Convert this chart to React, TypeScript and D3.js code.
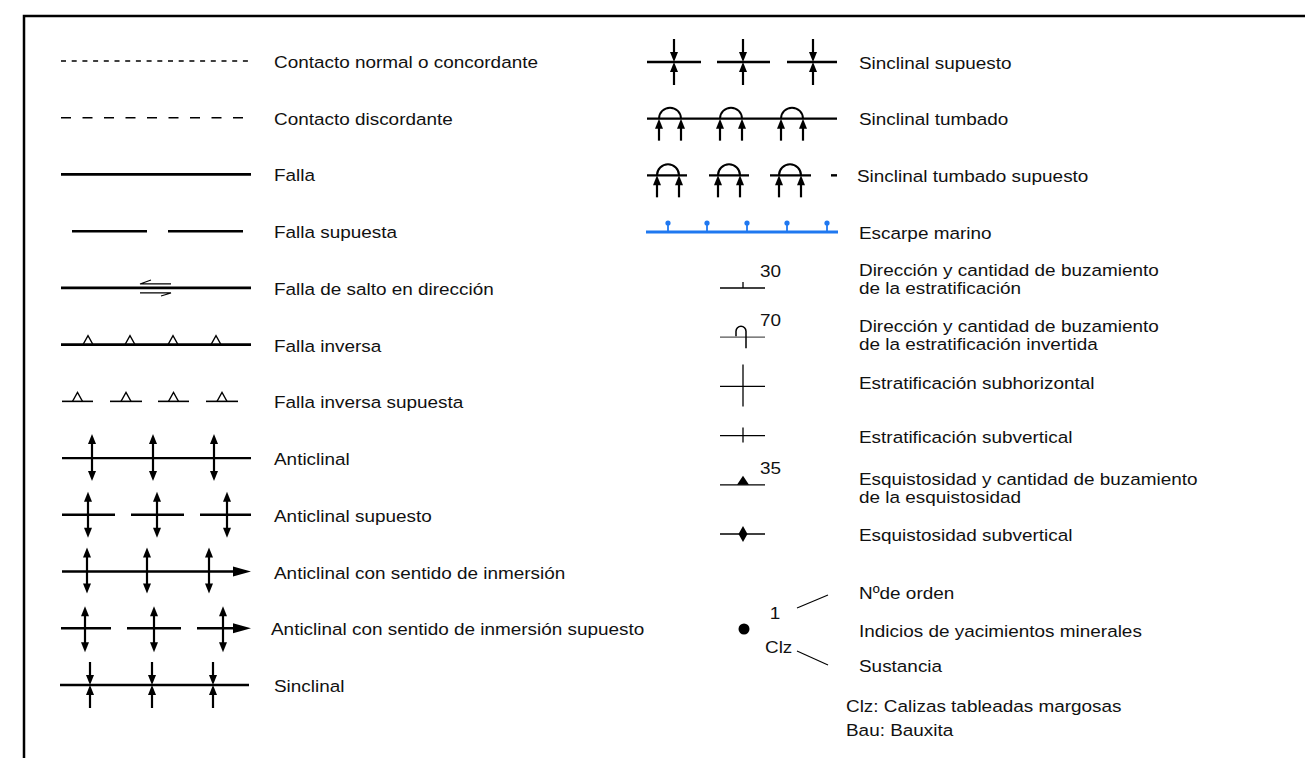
import * as d3 from 'd3';

// legend entries, left column
const leftLabels = [
  'Contacto normal o concordante',
  'Contacto discordante',
  'Falla',
  'Falla supuesta',
  'Falla de salto en dirección',
  'Falla inversa',
  'Falla inversa supuesta',
  'Anticlinal',
  'Anticlinal supuesto',
  'Anticlinal con sentido de inmersión',
  'Anticlinal con sentido de inmersión supuesto',
  'Sinclinal',
];

// right column, fold group
const foldLabels = ['Sinclinal supuesto', 'Sinclinal tumbado', 'Sinclinal tumbado supuesto', 'Escarpe marino'];

// right column, attitude group
const attitudeLabels = [
  ['Dirección y cantidad de buzamiento', 'de la estratificación'],
  ['Dirección y cantidad de buzamiento', 'de la estratificación invertida'],
  ['Estratificación subhorizontal'],
  ['Estratificación subvertical'],
  ['Esquistosidad y cantidad de buzamiento', 'de la esquistosidad'],
  ['Esquistosidad subvertical'],
];
const dipValues = ['30', '70', '', '', '35', ''];

// mineral occurrences
const mineralLabels = ['Nºde orden', 'Indicios de yacimientos minerales', 'Sustancia'];
const mineralNumber = '1';
const mineralCode = 'Clz';
const substanceKey = ['Clz: Calizas tableadas margosas', 'Bau: Bauxita'];

const W = 1305;
const H = 758;
const FONT = 'Liberation Sans, Arial, sans-serif';
const BLUE = '#1f78f0';

const yLeft = d3.scaleLinear().domain([0, leftLabels.length - 1]).range([61, 685]);
const yFold = d3.scaleLinear().domain([0, foldLabels.length - 1]).range([62, 232]);
const yAtt = d3.scaleLinear().domain([0, attitudeLabels.length - 1]).range([288, 534]);
const attLabelOffset = [-18, -11, -3, 1, -6, 1];

const L0 = 61, L1 = 251;
const R0 = 646, R1 = 837;
const S0 = 720, S1 = 765, SX = 743;

function Label({ x, y, text }: { x: number; y: number; text: string }) {
  // y is the visual centre of the caps
  return (
    <text
      transform={`translate(${x},${y + 6}) scale(1.1,1)`}
      fontFamily={FONT}
      fontSize={17.2}
      fill="#111"
    >
      {text}
    </text>
  );
}

// filled arrow head, tip at (x, y), pointing dir
function head(x: number, y: number, dir: 'up' | 'down' | 'right', len = 10, hw = 4) {
  const p = d3.path();
  if (dir === 'up') {
    p.moveTo(x, y); p.lineTo(x - hw, y + len); p.lineTo(x + hw, y + len);
  } else if (dir === 'down') {
    p.moveTo(x, y); p.lineTo(x - hw, y - len); p.lineTo(x + hw, y - len);
  } else {
    p.moveTo(x, y); p.lineTo(x - len, y - hw); p.lineTo(x - len, y + hw);
  }
  p.closePath();
  return <path d={p.toString()} fill="#000" />;
}

function line(x1: number, y1: number, x2: number, y2: number, w = 2.2, color = '#000', dash?: string) {
  return <line x1={x1} y1={y1} x2={x2} y2={y2} stroke={color} strokeWidth={w} strokeDasharray={dash} />;
}

function doubleArrow(x: number, y1: number, y2: number) {
  return (
    <g>
      {line(x, y1 + 5, x, y2 - 5)}
      {head(x, y1, 'up')}
      {head(x, y2, 'down')}
    </g>
  );
}

function inwardArrow(x: number, y1: number, yc: number, y2: number) {
  return (
    <g>
      {line(x, y1, x, yc - 5)}
      {line(x, y2, x, yc + 5)}
      {head(x, yc, 'down')}
      {head(x, yc, 'up')}
    </g>
  );
}

function tri(x: number, y: number) {
  return <path d={`M${x - 5},${y}L${x},${y - 9}L${x + 5},${y}`} fill="none" stroke="#000" strokeWidth={1.3} />;
}

function leftSymbol(i: number) {
  const y = yLeft(i);
  switch (i) {
    case 0:
      return line(L0, y, 248, y, 1.6, '#000', '5 5.7');
    case 1:
      return line(L0, y, 243, y, 1.5, '#000', '10 11.5');
    case 2:
      return line(L0, y, L1, y, 2.8);
    case 3:
      return (
        <g>
          {line(72, y, 147, y, 2.4)}
          {line(168, y, 243, y, 2.4)}
        </g>
      );
    case 4:
      return (
        <g>
          {line(L0, y, L1, y, 2.6)}
          <path d={`M151,${y - 8}L140,${y - 4}L171,${y - 4}`} fill="none" stroke="#000" strokeWidth={1.1} />
          <path d={`M140,${y + 5}L171,${y + 5}L161,${y + 8}`} fill="none" stroke="#000" strokeWidth={1.1} />
        </g>
      );
    case 5:
      return (
        <g>
          {line(L0, y, L1, y, 2.6)}
          {[88, 130, 173, 216].map((x) => <g key={x}>{tri(x, y)}</g>)}
        </g>
      );
    case 6:
      return (
        <g>
          {[[62, 93], [110, 142], [158, 189], [206, 238]].map(([a, b]) => (
            <g key={a}>
              {line(a, y, b, y, 1.6)}
              {tri((a + b) / 2, y)}
            </g>
          ))}
        </g>
      );
    case 7:
      return (
        <g>
          {line(62, y, L1, y, 2.4)}
          {[92, 153, 214].map((x) => <g key={x}>{doubleArrow(x, y - 24, y + 23)}</g>)}
        </g>
      );
    case 8:
      return (
        <g>
          {[[62, 115], [131, 184], [200, 251]].map(([a, b]) => <g key={a}>{line(a, y, b, y, 2.4)}</g>)}
          {[88, 157, 227].map((x) => <g key={x}>{doubleArrow(x, y - 23, y + 23)}</g>)}
        </g>
      );
    case 9:
      return (
        <g>
          {line(62, y, 236, y, 2.4)}
          {head(L1, y, 'right', 18, 5)}
          {[87, 147, 209].map((x) => <g key={x}>{doubleArrow(x, y - 24, y + 22)}</g>)}
        </g>
      );
    case 10:
      return (
        <g>
          {line(61, y, 111, y, 2.4)}
          {line(127, y, 181, y, 2.4)}
          {line(197, y, 236, y, 2.4)}
          {head(L1, y, 'right', 18, 5)}
          {[85, 154, 223].map((x) => <g key={x}>{doubleArrow(x, y - 22, y + 24)}</g>)}
        </g>
      );
    default:
      return (
        <g>
          {line(60, y, 249, y, 2.4)}
          {[90, 152, 213].map((x) => <g key={x}>{inwardArrow(x, y - 23, y, y + 23)}</g>)}
        </g>
      );
  }
}

function overturned(cx: number, y: number, r: number) {
  const arc = d3.path();
  arc.moveTo(cx - r, y);
  arc.arc(cx, y, r, Math.PI, 0);
  return (
    <g>
      <path d={arc.toString()} fill="none" stroke="#000" strokeWidth={2} />
      {line(cx - r, y + 22, cx - r, y + 5)}
      {line(cx + r, y + 22, cx + r, y + 5)}
      {head(cx - r, y, 'up')}
      {head(cx + r, y, 'up')}
    </g>
  );
}

function foldSymbol(i: number) {
  const y = yFold(i);
  switch (i) {
    case 0:
      return (
        <g>
          {[[647, 701], [717, 770], [787, R1]].map(([a, b]) => <g key={a}>{line(a, y, b, y, 2.4)}</g>)}
          {[674, 743, 813].map((x) => <g key={x}>{inwardArrow(x, y - 23, y, y + 23)}</g>)}
        </g>
      );
    case 1:
      return (
        <g>
          {line(647, y, R1, y, 2.4)}
          {[670, 731, 792].map((cx) => <g key={cx}>{overturned(cx, y, 11)}</g>)}
        </g>
      );
    case 2:
      return (
        <g>
          {[[647, 687], [709, 749], [770, 811], [831, R1]].map(([a, b]) => <g key={a}>{line(a, y, b, y, 2.4)}</g>)}
          {[668, 729, 790].map((cx) => <g key={cx}>{overturned(cx, y, 11)}</g>)}
        </g>
      );
    default:
      return (
        <g>
          {line(R0, y, 838, y, 3.2, BLUE)}
          {[668, 707, 747, 787, 827].map((x) => (
            <g key={x}>
              {line(x, y, x, y - 8, 1.8, BLUE)}
              <circle cx={x} cy={y - 9} r={2.6} fill={BLUE} />
            </g>
          ))}
        </g>
      );
  }
}

function attitudeSymbol(i: number) {
  const y = yAtt(i);
  const base = line(S0, y, S1, y, 1.3, i === 1 ? '#555' : '#000');
  let mark = null;
  if (i === 0) mark = line(SX, y - 6, SX, y, 1.3);
  if (i === 1)
    mark = (
      <path d={`M736,${y - 1}L736,${y - 6}A5,5 0 0 1 746,${y - 6}L746,${y + 11}`} fill="none" stroke="#000" strokeWidth={1.5} />
    );
  if (i === 2) mark = line(SX, y - 22, SX, y + 20, 1.3);
  if (i === 3) mark = line(SX, y - 8, SX, y + 7, 1.3);
  if (i === 4) mark = <path d={`M${SX},${y - 9}L${SX - 6},${y}L${SX + 6},${y}Z`} fill="#000" />;
  if (i === 5) mark = <path d={`M${SX},${y - 8}L${SX + 4.5},${y}L${SX},${y + 8}L${SX - 4.5},${y}Z`} fill="#000" />;
  return (
    <g>
      {base}
      {mark}
      {dipValues[i] && <Label x={760} y={y - 17} text={dipValues[i]} />}
    </g>
  );
}

export default function App() {
  return (
    <svg width={W} height={H} style={{ position: 'absolute', left: 0, top: 0 }}>
      <rect width={W} height={H} fill="#fff" />
      <path d={`M24,${H}L24,16L${W},16`} fill="none" stroke="#000" strokeWidth={2.5} />

      {leftLabels.map((t, i) => (
        <g key={t}>
          {leftSymbol(i)}
          <Label x={i === 10 ? 271 : 274} y={yLeft(i) + 1} text={t} />
        </g>
      ))}

      {foldLabels.map((t, i) => (
        <g key={t}>
          {foldSymbol(i)}
          <Label x={i === 2 ? 857 : 859} y={yFold(i) + 0.5} text={t} />
        </g>
      ))}

      {attitudeLabels.map((lines, i) => (
        <g key={i}>
          {attitudeSymbol(i)}
          {lines.map((t, k) => (
            <Label key={k} x={859} y={yAtt(i) + attLabelOffset[i] + k * 18} text={t} />
          ))}
        </g>
      ))}

      <g>
        <circle cx={744} cy={629} r={5.5} fill="#000" />
        <text transform="translate(775,619) scale(1.1,1)" textAnchor="middle" fontFamily={FONT} fontSize={17.2} fill="#111">
          {mineralNumber}
        </text>
        <text transform="translate(765,653) scale(1.1,1)" fontFamily={FONT} fontSize={17.2} fill="#111">
          {mineralCode}
        </text>
        {line(797, 608, 828, 595, 1.1)}
        {line(797, 651, 828, 665, 1.1)}
        {mineralLabels.map((t, i) => (
          <Label key={t} x={859} y={[593, 631, 666][i]} text={t} />
        ))}
        {substanceKey.map((t, i) => (
          <Label key={t} x={846} y={706 + i * 24} text={t} />
        ))}
      </g>
    </svg>
  );
}
